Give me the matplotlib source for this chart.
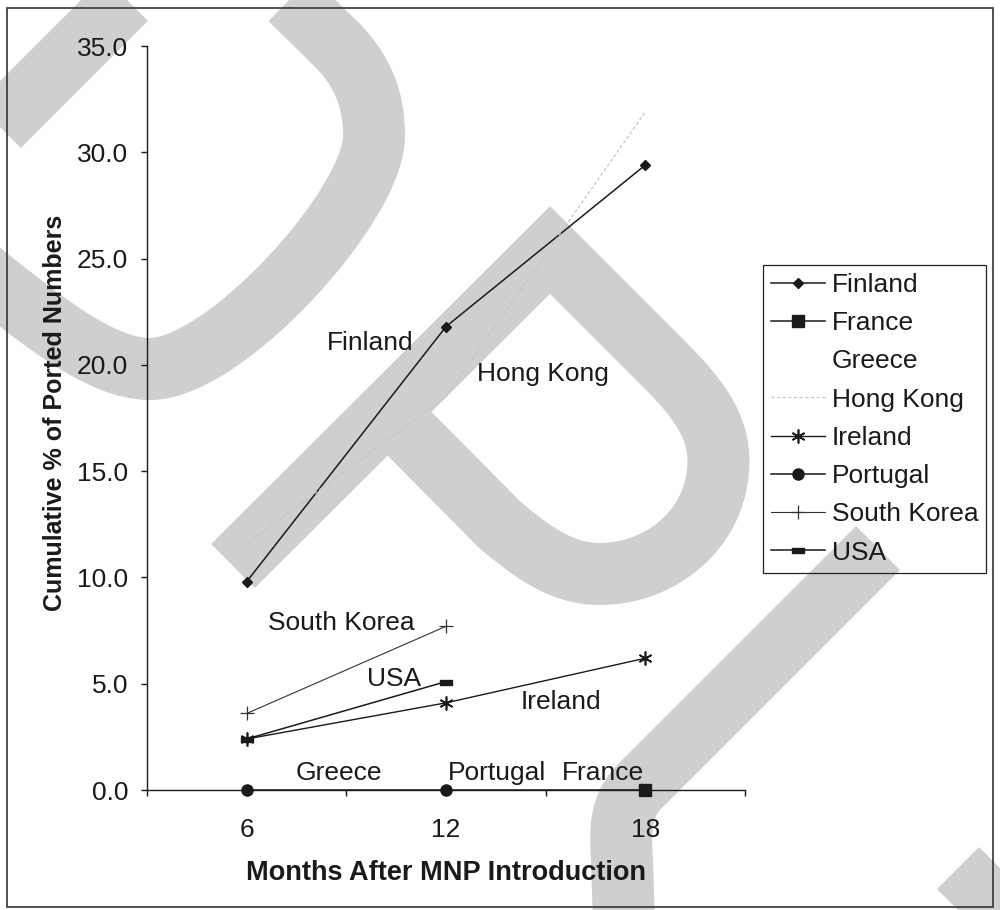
import numpy as np
import matplotlib
matplotlib.use("Agg")
import matplotlib.pyplot as plt
from matplotlib.path import Path
from matplotlib.patches import PathPatch, Rectangle

plt.rcParams['font.family'] = ['Liberation Sans', 'DejaVu Sans']

# ---- data -------------------------------------------------------------
months = ["6", "12", "18"]
finland = [9.8, 21.8, 29.4]
france = [np.nan, np.nan, 0.0]
greece = [0.0, 0.0, 0.0]
hong_kong = [11.6, 18.5, 31.9]
ireland = [2.4, 4.1, 6.2]
portugal = [0.0, 0.0, 0.0]
south_korea = [3.6, 7.7, np.nan]
usa = [2.4, 5.1, np.nan]
y_ticks = [0, 5, 10, 15, 20, 25, 30, 35]

# ---- figure -----------------------------------------------------------
W, H, DPI = 1000, 910, 100
fig = plt.figure(figsize=(W / DPI, H / DPI), dpi=DPI)
fig.patch.set_facecolor('white')

# background stroke decoration in pixel space
bg = fig.add_axes([0, 0, 1, 1], zorder=0)
bg.set_xlim(0, W)
bg.set_ylim(H, 0)
bg.axis('off')
band = 62 * 72 / DPI
grey = '#cfcfcf'

def stroke(verts, codes):
    p = PathPatch(Path(verts, codes), facecolor='none', edgecolor=grey,
                  linewidth=band, joinstyle='miter', capstyle='butt')
    bg.add_patch(p)

M, L, C = Path.MOVETO, Path.LINETO, Path.CURVE4
# upper-left loop
stroke([(-100, 225), (200, -75)], [M, L])
stroke([(230, -60), (332, 40), (362, 68), (374, 98), (374, 136),
        (374, 205), (225, 369), (150, 369),
        (100, 369), (40, 320), (-40, 255)],
       [M, L, C, C, C, C, C, C, C, C, C])
# central loop
stroke([(233, 566), (550, 250), (665, 365),
        (700, 400), (722, 430), (718, 470),
        (714, 530), (660, 574), (600, 574),
        (560, 574), (530, 550), (500, 525), (388, 412)],
       [M, L, L, C, C, C, C, C, C, C, C, C, L])
# lower-right strokes
stroke([(878, 548), (640, 786), (620, 806), (620, 830), (622, 860), (625, 960)],
       [M, L, C, C, C, L])
stroke([(1100, 770), (930, 940)], [M, L])

# outer frame
fig.patches.append(Rectangle((7 / W, 1 - 907 / H), 986 / W, 899 / H,
                             transform=fig.transFigure, fill=False,
                             edgecolor='#333333', linewidth=1.2, zorder=1))

# ---- chart ------------------------------------------------------------
ax = fig.add_axes([147 / W, 1 - 790 / H, 598 / W, 744 / H], zorder=2)
ax.patch.set_alpha(0)
x = np.arange(len(months))

ink = '#1a1a1a'
bar_marker = Path([(-1, -0.45), (1, -0.45), (1, 0.45), (-1, 0.45), (-1, -0.45)],
                  [M, L, L, L, Path.CLOSEPOLY])

common = dict(clip_on=False)
ax.plot(x, finland, color=ink, lw=1.1, marker='D', ms=5.5, label='Finland', **common)
ax.plot(x, france, color=ink, lw=1.1, marker='s', ms=8.5, label='France', **common)
ax.plot(x, greece, linestyle='none', marker='none', label='Greece', **common)
ax.plot(x, hong_kong, color='#c4c4c4', lw=0.9, ls=(0, (2.5, 2)),
        label='Hong Kong', **common)
ax.plot(x, ireland, color=ink, lw=1.0, marker=(6, 2, 0), ms=10, mew=1.2,
        label='Ireland', **common)
ax.plot(x, portugal, color=ink, lw=1.1, marker='o', ms=8, markevery=[0, 1],
        label='Portugal', **common)
ax.plot(x, south_korea, color='#333333', lw=0.8, marker='+', ms=10, mew=0.9,
        label='South Korea', **common)
ax.plot(x, usa, color=ink, lw=1.1, marker=bar_marker, ms=8, label='USA', **common)

FS = 19
ax.set_xlim(-0.5, 2.5)
ax.set_ylim(0, 35)
ax.set_yticks(y_ticks)
ax.set_yticklabels([f"{v:.1f}" for v in y_ticks])
ax.set_xticks(x)
ax.set_xticklabels(months)
ax.set_xticks([-0.5, 0.5, 1.5, 2.5], minor=True)
ax.tick_params(axis='x', which='major', length=0, pad=20, labelsize=FS,
               labelcolor=ink)
ax.tick_params(axis='x', which='minor', length=4.5, direction='out', width=1,
               color=ink)
ax.tick_params(axis='y', length=4.5, width=1, pad=9.0, labelsize=FS,
               labelcolor=ink, color=ink)
for side in ('top', 'right'):
    ax.spines[side].set_visible(False)
for side in ('left', 'bottom'):
    ax.spines[side].set_color(ink)
    ax.spines[side].set_linewidth(1.0)

fig.text(446 / W, 1 - 880 / H, 'Months After MNP Introduction', fontsize=19.5,
         fontweight='bold', color=ink, ha='center', va='baseline')
fig.text(62 / W, 1 - 413 / H, 'Cumulative % of Ported Numbers', fontsize=18,
         fontweight='bold', color=ink, ha='center', va='baseline',
         rotation=90, rotation_mode='anchor')

# series name labels placed on the plot area
names = ['Finland', 'Hong Kong', 'South Korea', 'USA', 'Ireland',
         'Greece', 'Portugal', 'France']
name_pos = [(0.619, 21.03), (1.487, 19.57), (0.473, 7.86), (0.739, 5.22),
            (1.577, 4.14), (0.463, 0.80), (1.256, 0.80), (1.788, 0.80)]
for n, (px, py) in zip(names, name_pos):
    ax.text(px, py, n, ha='center', va='center', fontsize=FS, color=ink)

leg = ax.legend(loc='upper left', bbox_to_anchor=(763 / W, 1 - 265 / H),
                bbox_transform=fig.transFigure, borderaxespad=0,
                fontsize=FS, frameon=True, fancybox=False, framealpha=1,
                handlelength=2.05, handletextpad=0.25, borderpad=0.3,
                labelspacing=0.54, labelcolor=ink)
leg.get_frame().set_facecolor('none')
leg.get_frame().set_edgecolor('#222222')
leg.get_frame().set_linewidth(0.9)

fig.savefig('out.png', dpi=DPI)
